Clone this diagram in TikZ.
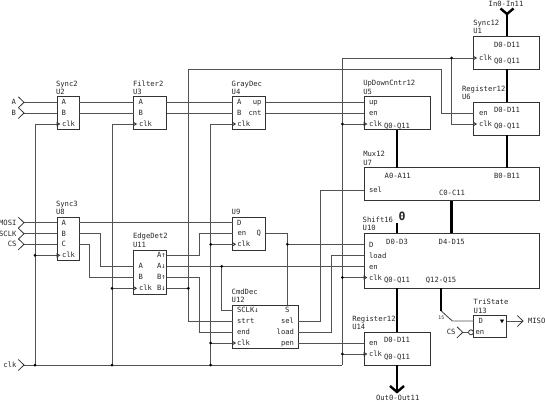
\documentclass[tikz,border=0pt]{standalone}
\usepackage{fontspec}
\setmainfont{DejaVu Sans Mono}
\begin{document}
\begin{tikzpicture}[x=1pt,y=-1pt,
  txt/.style={inner sep=0pt,outer sep=0pt,text height=5.3pt,text depth=0pt,font=\fontsize{7.2}{8}\selectfont,text=black!85},
  lab/.style={txt,anchor=west},
  ctr/.style={txt,anchor=center},
  rgt/.style={txt,anchor=east},
  box/.style={draw=black!80,line width=0.8pt,fill=none,inner sep=0pt,outer sep=0pt,anchor=north west},
  wire/.style={draw=black!68,line width=0.95pt},
  bus/.style={draw=black,line width=2.6pt},
  junction/.style={circle,fill=black,inner sep=0pt,minimum size=3pt},
  chev/.pic={\draw[black!80,line width=0.8pt] (-5.7,-5.5)--(0,0)--(-5.7,5.5);},
  clkm/.pic={\draw[black!80,line width=0.8pt] (0,-1.6)--(2.6,0)--(0,1.6)--cycle;}
]
\useasboundingbox (0,0) rectangle (545,401);

% Coordinates of pins and bends
\foreach \n/\x/\y in {
 iA/24/102.3, iB/24/113, iMOSI/24/222.7, iSCLK/24/233.7, iCS/24/244.3, iclk/24/365,
 u2A/57/102.3, u2B/57/113, u2c/57/124, u2Ao/79/102.3, u2Bo/79/113,
 u3A/133.7/102.3, u3B/133.7/113, u3c/133.7/124, u3Ao/166.7/102.3, u3Bo/166.7/113,
 u4A/232.7/102.3, u4B/232.7/113, u4c/232.7/124, u4up/265.5/102.3, u4cnt/265.5/113,
 u5up/364/102.3, u5en/364/113, u5c/364/124,
 u1c/473.7/58, u6en/473.7/113, u6c/473.7/124,
 u8A/57/222.7, u8B/57/233.7, u8C/57/244.3, u8c/57/255.3, u8Ao/79/222.7, u8Bo/79/233.7, u8Co/79/244.3,
 u11A/133.7/266.3, u11B/133.7/277.3, u11c/133.7/288.3,
 u11Au/166.7/255.3, u11Ad/166.7/266.3, u11Bu/166.7/277.3, u11Bd/166.7/288.3,
 u9D/232.7/222.7, u9en/232.7/233.3, u9c/232.7/244.3, u9Q/265.7/233.3,
 u12sc/232.7/310, u12st/232.7/321, u12e/232.7/332.3, u12c/232.7/343,
 u12S/287.3/305, u12sel/298.3/321, u12load/298.3/332.3, u12pen/298.3/343,
 u7sel/364/190, u10D/364/244.3, u10load/364/255.3, u10en/364/266.3, u10c/364/277.5,
 u14en/364/343, u14c/364/354, u13D/473.7/321, u13en/468.3/332.3, u13o/506.7/321,
 oMISO/523/321, iCS2/462.7/332.3,
 b1/35/124, b2/112/124, b3/210.7/124, b4/342.3/58, b5/188.3/69, b6/441/69, b7/441/113, b8/451.7/124,
 b9/100.7/233.7, b10/100.7/266.3, b11/89.3/244.3, b12/89.3/277.3,
 b13/199.7/255.3, b14/199.7/233.3, b15/199.7/277.3, b16/199.7/332.3,
 b17/188.3/321, b18/287.3/233.3, b19/221.7/310,
 b20/320.3/321, b21/320.3/190, b22/331.3/332.3, b23/331.3/255.3, b24/342.3/365,
 s1/441/310.7, s2/452.3/321, s0/397/223,
 bIn/507/14, bOut/397/392}
 {\coordinate (\n) at (\x,\y);}

% Boxes
\node[box,minimum width=22pt,minimum height=33pt] (U2) at (57,96.3) {};
\node[box,minimum width=33pt,minimum height=33pt] (U3) at (133.7,96.3) {};
\node[box,minimum width=33pt,minimum height=33pt] (U4) at (232.7,96.3) {};
\node[box,minimum width=66pt,minimum height=33pt] (U5) at (364,96.7) {};
\node[box,minimum width=66pt,minimum height=33pt] (U1) at (473.7,36) {};
\node[box,minimum width=66pt,minimum height=33pt] (U6) at (473.7,102) {};
\node[box,minimum width=175.7pt,minimum height=33pt] (U7) at (364,167.7) {};
\node[box,minimum width=175.7pt,minimum height=55pt] (U10) at (364,233.3) {};
\node[box,minimum width=66pt,minimum height=33pt] (U14) at (364,332) {};
\node[box,minimum width=33pt,minimum height=21.6pt] (U13) at (473.7,315.7) {};
\node[box,minimum width=22pt,minimum height=43.7pt] (U8) at (57,217) {};
\node[box,minimum width=33pt,minimum height=44pt] (U11) at (133.7,250) {};
\node[box,minimum width=33pt,minimum height=33pt] (U9) at (232.7,217) {};
\node[box,minimum width=65.6pt,minimum height=43.3pt] (U12) at (232.7,305) {};

% Wires
\draw[wire] (iA)--(u2A) (iB)--(u2B) (u2Ao)--(u3A) (u2Bo)--(u3B) (u3Ao)--(u4A) (u3Bo)--(u4B) (u4up)--(u5up) (u4cnt)--(u5en);
\draw[wire] (iMOSI)--(u8A) (iSCLK)--(u8B) (iCS)--(u8C);
\draw[wire] (u8Ao)--(u9D);
\draw[wire] (u8Bo)--(b9)--(b10)--(u11A);
\draw[wire] (u8Co)--(b11)--(b12)--(u11B);
\draw[wire] (u2c)--(b1)--(b1|-iclk);
\draw[wire] (u3c)--(b2)--(b2|-iclk);
\draw[wire] (iclk)--(b24);
\draw[wire] (u4c)--(b3)--(b3|-iclk);
\draw[wire] (b24)--(b4)--(u1c);
\draw[wire] (u11Bd)--(b5|-u11Bd);
\draw[wire] (u12st)--(b17)--(b5)--(b6)--(b7)--(u6en);
\draw[wire] (b8|-u1c)--(b8)--(u6c);
\draw[wire] (b4|-u5c)--(u5c);
\draw[wire] (b4|-u10c)--(u10c);
\draw[wire] (b4|-u14c)--(u14c);
\draw[wire] (b1|-u8c)--(u8c);
\draw[wire] (b2|-u11c)--(u11c);
\draw[wire] (b3|-u9c)--(u9c);
\draw[wire] (b3|-u12c)--(u12c);
\draw[wire] (u11Au)--(b13)--(b14)--(u9en);
\draw[wire] (u11Ad)--(u10en);
\draw[wire] (b19|-u11Ad)--(b19)--(u12sc);
\draw[wire] (u11Bu)--(b15)--(b16)--(u12e);
\draw[wire] (u9Q)--(b18)--(u12S);
\draw[wire] (b18|-u10D)--(u10D);
\draw[wire] (u12sel)--(b20)--(b21)--(u7sel);
\draw[wire] (u12load)--(b22)--(b23)--(u10load);
\draw[wire] (u12pen)--(u14en);
\draw[wire] (s1)--(s2)--(u13D);
\draw[wire] (iCS2)--(u13en);
\draw[wire] (u13o)--(oMISO);
\node[circle,draw=black!80,line width=0.8pt,fill=white,inner sep=0pt,minimum size=5pt] (nCS) at (471,332.3) {};

% Buses
\draw[bus] (bIn)--(U1.north-|bIn);
\draw[bus] (U1.south-|bIn)--(U6.north-|bIn);
\draw[bus] (U6.south-|bIn)--(U7.north-|bIn);
\draw[bus] (U5.south)--(U7.north-|U5.south);
\draw[bus] (U7.south-|b8)--(U10.north-|b8);
\draw[bus] (s0)--(U10.north-|s0);
\draw[bus] (U10.south-|U5.south)--(U14.north);
\draw[bus] (U10.south-|s1)--(s1);
\draw[bus] (U14.south)--(bOut);
\draw[black,line width=2.4pt,line join=miter] (500.5,8.5)--(bIn)--(513.5,8.5);
\draw[black,line width=2.4pt,line join=miter] (390,386)--(bOut)--(404,386);

% Junctions
\node[junction] (j1) at (b1|-u8c) {};
\node[junction] (j2) at (b1|-iclk) {};
\node[junction] (j3) at (b2|-iclk) {};
\node[junction] (j4) at (b2|-u11c) {};
\node[junction] (j5) at (b3|-iclk) {};
\node[junction] (j6) at (b3|-u9c) {};
\node[junction] (j7) at (b3|-u12c) {};
\node[junction] (j8) at (b4|-u5c) {};
\node[junction] (j9) at (b4|-u10c) {};
\node[junction] (j10) at (b4|-u14c) {};
\node[junction] (j11) at (b8|-u1c) {};
\node[junction] (j12) at (b5|-u11Bd) {};
\node[junction] (j13) at (b19|-u11Ad) {};
\node[junction] (j14) at (b18|-u10D) {};

% Connector ends
\pic at (iA) {chev}; \pic at (iB) {chev}; \pic at (iMOSI) {chev}; \pic at (iSCLK) {chev}; \pic at (iCS) {chev}; \pic at (iclk) {chev};
\pic at (iCS2) {chev}; \pic at (oMISO) {chev};
\foreach \c in {u2c,u3c,u4c,u5c,u1c,u6c,u8c,u11c,u9c,u12c,u10c,u14c} {\pic at (\c) {clkm};}

% Titles
\node[lab] (t2) at (56,83.5) {Sync2}; \node[lab] (r2) at (56,91.7) {U2};
\node[lab] (t3) at (133,83.5) {Filter2}; \node[lab] (r3) at (133,91.7) {U3};
\node[lab] (t4) at (231.7,83.5) {GrayDec}; \node[lab] (r4) at (231.7,91.7) {U4};
\node[lab] (t5) at (363.3,83.3) {UpDownCntr12}; \node[lab] (r5) at (363.3,91.7) {U5};
\node[lab] (t1) at (473.3,23) {Sync12}; \node[lab] (r1) at (473.3,31) {U1};
\node[lab] (t6) at (462,88.7) {Register12}; \node[lab] (r6) at (462,97) {U6};
\node[lab] (t7) at (363.3,154) {Mux12}; \node[lab] (r7) at (363.3,162.7) {U7};
\node[lab] (t10) at (362.7,220) {Shift16}; \node[lab] (r10) at (362.7,228) {U10};
\node[lab] (t14) at (352.3,318.7) {Register12}; \node[lab] (r14) at (352.3,327) {U14};
\node[lab] (t13) at (473.7,302) {TriState}; \node[lab] (r13) at (473.7,310.7) {U13};
\node[lab] (t8) at (56,204) {Sync3}; \node[lab] (r8) at (56,212) {U8};
\node[lab] (t11) at (133,236.3) {EdgeDet2}; \node[lab] (r11) at (133,245) {U11};
\node[lab] (r9) at (231.7,212) {U9};
\node[lab] (t12) at (231.7,291.7) {CmdDec}; \node[lab] (r12) at (231.7,299.7) {U12};

% External labels
\node[rgt] (eA) at (16,102.3) {A}; \node[rgt] (eB) at (16,113) {B};
\node[rgt] (eMOSI) at (16.5,222.7) {MOSI}; \node[rgt] (eSCLK) at (16.5,233.7) {SCLK}; \node[rgt] (eCS) at (16.5,244.3) {CS};
\node[rgt] (eclk) at (16.5,365) {clk};
\node[ctr] (eIn) at (506,4) {In0-In11};
\node[ctr] (eOut) at (397.7,397.5) {Out0-Out11};
\node[lab] (eMISO) at (528,321) {MISO};
\node[rgt] (eCS2) at (455.5,332.3) {CS};
\node[ctr,font=\fontsize{4.8}{5}\selectfont,text height=3.6pt] (e15) at (441.3,318) {15};
\node[ctr,font=\fontsize{11.5}{12}\bfseries\selectfont,text height=8.3pt] (e0) at (402,216) {0};

% Pin labels
\foreach \n/\x/\y/\t in {a2/63.7/102.3/A, b2l/63.7/113/B, a3/140.7/102.3/A, b3l/140.7/113/B, a4/239.3/102.3/A, b4l/239.3/113/B,
  a8/63.7/222.7/A, b8l/63.7/233.7/B, c8/63.7/244.3/C, a11/140.7/266.3/A, b11l/140.7/277.3/B,
  d9/239.3/222.7/D, q9/258.7/233.3/Q, s12/287.3/310/S, d13/480.7/321/D,
  q5/397/125.7/Q0-Q11, d1/507/44.7/D0-D11, q1/507/61/Q0-Q11, d6/507/110/D0-D11, q6/507/126/Q0-Q11,
  a7/397.7/176/A0-A11, b7l/507/176/B0-B11, c7/452/192.7/C0-C11,
  d10a/397/242/D0-D3, d10b/451.7/242/D4-D15, q10a/397/280/Q0-Q11, q10b/441/280/Q12-Q15,
  d14/397/340/D0-D11, q14/397/357/Q0-Q11}
  {\node[ctr] (p\n) at (\x,\y) {\t};}
\foreach \n/\x/\y/\t in {c2/62/124/clk, c3/139/124/clk, c4/237.3/124/clk, up5/369/102.3/up, en5/369/113/en, c5/369/124/clk,
  c1/479/58/clk, en6/479/113/en, c6/479/124/clk, sel7/369/190/sel,
  c8l/62/255.3/clk, c11/139/288.3/clk, en9/237.5/233.3/en, c9/237.3/244.3/clk,
  sc12/237/310/SCLK↓, st12/237/321/strt, e12/237/332.3/end, c12/237/343/clk,
  d10/369/244.7/D, l10/369/255.5/load, en10/369/266.7/en, c10/369/277.5/clk,
  en14/369/343/en, c14/369/354/clk, en13/475.5/332.3/en}
  {\node[lab] (p\n) at (\x,\y) {\t};}
\foreach \n/\x/\y/\t in {up4/261.5/102.3/up, cnt4/261.5/113/cnt,
  au/165.7/255.3/A↑, ad/165.7/266.3/A↓, bu/165.7/277.3/B↑, bd/165.7/288.3/B↓,
  sel12/294/321/sel, load12/294/332.3/load, pen12/294/343/pen}
  {\node[rgt] (p\n) at (\x,\y) {\t};}
\draw[black,fill=black,line width=0.3pt] (500.3,319.8)--(503.7,319.8)--(502,322.8)--cycle;
\end{tikzpicture}
\end{document}
